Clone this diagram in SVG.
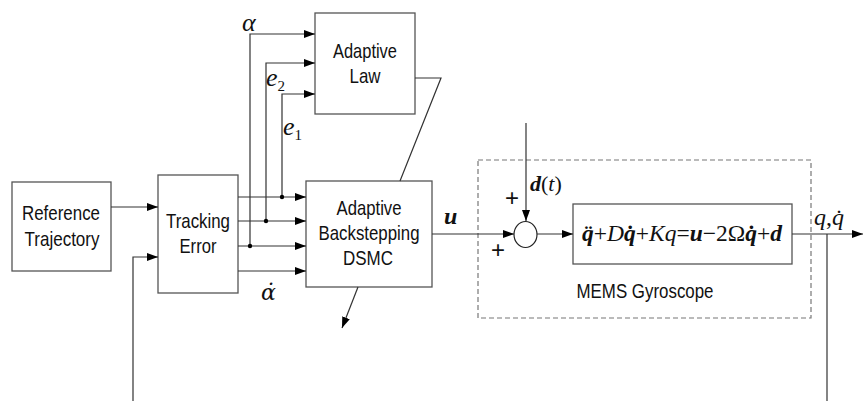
<svg xmlns="http://www.w3.org/2000/svg" width="863" height="401" viewBox="0 0 863 401">
<style>
.box{fill:#fff;stroke:#555;stroke-width:1.3}
.ln{fill:none;stroke:#333;stroke-width:1.2}
.arr{marker-end:url(#ah)}
.lbl{font-family:"Liberation Sans",Arial,sans-serif;font-size:21px;fill:#111;text-anchor:middle}
.m{font-family:"Liberation Serif","Times New Roman",serif;font-style:italic;fill:#111}
.b{font-weight:bold}
.pl{font-family:"Liberation Sans",Arial,sans-serif;font-size:24px;fill:#111;text-anchor:middle}
.dash{fill:none;stroke:#777;stroke-width:1.2;stroke-dasharray:5,3}
</style>
<defs>
<marker id="ah" markerUnits="userSpaceOnUse" markerWidth="11" markerHeight="8" refX="11" refY="4" orient="auto">
<path d="M0,0 L11,4 L0,8 z" fill="#000"/>
</marker>
</defs>
<rect fill="#fff" width="863" height="401"/>
<g id="gyro-frame">
<rect class="dash" x="478" y="160" width="333" height="158"/>
<text class="lbl" x="645" y="298" textLength="137" lengthAdjust="spacingAndGlyphs">MEMS Gyroscope</text>
</g>
<g id="ref">
<rect class="box" x="12" y="182" width="99" height="89"/>
<text class="lbl" x="61" y="220" textLength="78" lengthAdjust="spacingAndGlyphs">Reference</text>
<text class="lbl" x="62" y="246" textLength="75" lengthAdjust="spacingAndGlyphs">Trajectory</text>
</g>
<g id="track">
<rect class="box" x="158" y="175" width="80" height="118"/>
<text class="lbl" x="198" y="228" textLength="64" lengthAdjust="spacingAndGlyphs">Tracking</text>
<text class="lbl" x="198" y="253" textLength="37" lengthAdjust="spacingAndGlyphs">Error</text>
</g>
<g id="law">
<rect class="box" x="315" y="13" width="100" height="101"/>
<text class="lbl" x="365" y="58" textLength="64" lengthAdjust="spacingAndGlyphs">Adaptive</text>
<text class="lbl" x="365" y="83" textLength="31" lengthAdjust="spacingAndGlyphs">Law</text>
</g>
<g id="dsmc">
<rect class="box" x="306" y="181" width="126" height="106"/>
<text class="lbl" x="369" y="215" textLength="65" lengthAdjust="spacingAndGlyphs">Adaptive</text>
<text class="lbl" x="369" y="240" textLength="101" lengthAdjust="spacingAndGlyphs">Backstepping</text>
<text class="lbl" x="368" y="265" textLength="50" lengthAdjust="spacingAndGlyphs">DSMC</text>
</g>
<g id="sum">
<ellipse cx="525.5" cy="234.5" rx="11.5" ry="13" fill="#fff" stroke="#222" stroke-width="1.2"/>
</g>
<g id="plant">
<rect class="box" x="573" y="204" width="219" height="60"/>
<text class="m" x="582" y="241" font-size="23" textLength="200" lengthAdjust="spacingAndGlyphs"><tspan class="b">q̈</tspan><tspan font-style="normal">+</tspan>D<tspan class="b">q̇</tspan><tspan font-style="normal">+</tspan>Kq<tspan font-style="normal">=</tspan><tspan class="b">u</tspan><tspan font-style="normal">−2Ω</tspan><tspan class="b">q̇</tspan><tspan font-style="normal">+</tspan><tspan class="b">d</tspan></text>
</g>
<g id="connectors">
<path class="ln arr" d="M111,207 H158"/>
<path class="ln arr" d="M133,401 V257 H158"/>
<path class="ln arr" d="M238,197 H306"/>
<path class="ln arr" d="M238,221 H306"/>
<path class="ln arr" d="M238,246 H306"/>
<path class="ln arr" d="M238,271 H306"/>
<path class="ln arr" d="M250,246 V34 H315"/>
<path class="ln arr" d="M266,221 V63 H315"/>
<path class="ln arr" d="M282,197 V94 H315"/>
<circle cx="250" cy="246" r="2.2" fill="#000"/>
<circle cx="266" cy="221" r="2.2" fill="#000"/>
<circle cx="282" cy="197" r="2.2" fill="#000"/>
<path class="ln" d="M415,78 H441 L400,181"/>
<path class="ln arr" d="M358,287 L342,328"/>
<path class="ln arr" d="M432,234 H514"/>
<path class="ln arr" d="M526,123 V221"/>
<path class="ln arr" d="M537,234 H573"/>
<path class="ln arr" d="M792,234 H863"/>
<path class="ln" d="M827,234 V401"/>
</g>
<g id="labels">
<text class="m" x="242" y="31" font-size="26">α</text>
<text class="m" x="266" y="86" font-size="26">e<tspan font-size="15" font-style="normal" dy="5">2</tspan></text>
<text class="m" x="283" y="135" font-size="26">e<tspan font-size="15" font-style="normal" dy="5">1</tspan></text>
<text x="261" y="300" font-size="22" font-style="italic" font-family="DejaVu Serif,serif" fill="#111">α̇</text>
<text class="m b" x="444" y="224" font-size="24">u</text>
<text class="m" x="530" y="191" font-size="22"><tspan class="b">d</tspan><tspan font-style="normal">(</tspan>t<tspan font-style="normal">)</tspan></text>
<text class="pl" x="512" y="206">+</text>
<text class="pl" x="498" y="258">+</text>
<text class="m" x="814" y="225" font-size="24">q<tspan font-style="normal">,</tspan>q̇</text>
</g>
</svg>
